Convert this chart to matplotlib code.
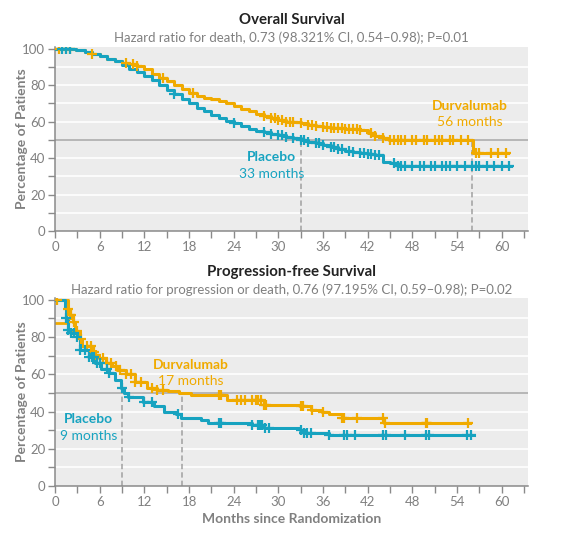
import numpy as np
import matplotlib
matplotlib.use("Agg")
import matplotlib.pyplot as plt
from matplotlib.ticker import MultipleLocator

plt.rcParams["font.family"] = ["Lato", "DejaVu Sans"]

ORANGE = "#F0AA00"
TEAL = "#17A3C0"
GRAY = "#8a8a8a"

# ---- Overall survival (step points, % alive) ----
os_durva_t = [0, 2.8, 4, 5, 6, 7, 8, 9, 10, 11, 12, 13, 14, 15, 16, 17, 18, 19, 20, 21,
              22, 23, 24, 25, 26, 27, 28, 29, 30, 31, 32, 33, 34, 35, 36, 37, 38, 39, 40,
              41, 42, 43, 44, 44.8, 56.1, 60.8]
os_durva_s = [100, 99, 98, 97, 96, 94.5, 93, 92, 91.5, 90.5, 88.5, 86, 84, 82, 80, 78, 75.5,
              74, 73, 72.5, 71.5, 70, 68.5, 67, 65.5, 64, 63, 62, 61, 60, 59.5, 59, 58, 57.5,
              57, 56.5, 56.5, 56, 56, 55.5, 53.5, 52, 51, 50, 43, 43]
os_plac_t = [0, 2.8, 4, 5, 6, 7, 8, 9, 10, 11, 12, 13, 14, 15, 16, 17, 18, 19, 20, 21, 22,
             23, 24, 25, 26, 27, 28, 29, 30, 31, 32, 33, 34, 35, 36, 37, 38, 39, 40, 41, 42,
             43, 44, 45, 46, 61.3]
os_plac_s = [100, 99, 98, 97, 96, 94.5, 93, 91, 89, 87, 85, 82.5, 80, 77.5, 75, 72.5, 70,
             67.5, 65.5, 63.5, 62, 60.5, 59, 57.5, 56, 55, 54, 53, 52.5, 51.5, 51, 50, 49, 48,
             47, 46, 45, 44, 43.5, 43, 42, 41.5, 38, 37, 35.5, 35.5]
os_durva_cens = [0.5, 1.5, 2, 5, 9.5, 10.5, 11, 14.5, 18.5, 28, 29, 29.5, 30, 30.5, 31, 31.5,
                 32, 33, 34, 34.5, 35, 36, 36.5, 37, 37.5, 38, 38.5, 39, 39.5, 40, 40.5, 41,
                 42.5, 43, 44, 45, 45.5, 46, 46.5, 47, 48, 48.5, 49.5, 50, 51, 51.5, 52, 53,
                 53.5, 54.5, 55.5, 56.5, 57, 58.5, 59.5, 60.5]
os_plac_cens = [1, 1.5, 2, 16, 24, 28, 29, 30, 30.5, 31, 32, 33, 33.5, 34, 35, 35.5, 36, 37,
                37.5, 38, 38.5, 39.5, 40, 41, 41.5, 42, 42.5, 43, 43.5, 45.5, 46, 46.5, 47,
                48, 49, 49.5, 50.5, 51, 52, 52.5, 53, 54, 55, 56, 56.5, 57, 58, 59, 60, 61]

# ---- Progression-free survival ----
pfs_durva_t = [0, 1.7, 2.0, 2.4, 2.7, 3.3, 3.6, 4.9, 5.4, 5.9, 6.9, 7.7, 8.3, 9.5, 10.8,
               12.3, 13.7, 15.2, 16.7, 18.2, 23.1, 28, 32.9, 34.4, 35.8, 36.8, 38.5, 44.2, 55.7]
pfs_durva_s = [100, 95, 92, 88, 83, 79, 75, 72, 70.5, 68.5, 66, 64.3, 62.4, 60, 56, 52.5,
               51.6, 51, 49.8, 48.6, 46.2, 43.5, 42.7, 40.9, 40, 38.5, 36.4, 34, 34]
pfs_durva_stub_t = [0, 1.6]
pfs_durva_stub_s = [87.5, 87.5]
pfs_plac_t = [0, 1.3, 1.5, 1.7, 2.1, 3.0, 3.3, 4.5, 5.4, 6.2, 7.2, 8.0, 8.8, 9.3, 9.8, 11.8,
              13.3, 14.7, 16.2, 16.9, 19.6, 20.6, 26.5, 28, 32.9, 33.4, 36.8, 56.2]
pfs_plac_s = [100, 96, 90, 84, 82, 80, 73, 69.5, 66, 63, 60.8, 57, 52.5, 49.8, 48, 45.3,
              42.7, 40, 38.5, 36.4, 35.5, 34, 32.8, 31, 30.1, 28.3, 27.4, 27.4]
pfs_durva_cens = [0.3, 1.8, 2.0, 2.2, 2.5, 3, 3.5, 4.3, 4.8, 5.2, 5.5, 6.5, 7, 7.5, 8.2, 8.7,
                  9.5, 10.2, 10.8, 11.5, 13, 13.7, 14.5, 22, 22.3, 24.5, 25, 25.5, 26.5, 27,
                  27.3, 27.6, 28, 28.3, 33, 33.3, 34.5, 36, 38.5, 38.8, 40.5, 44, 44.3, 49.8,
                  50, 55.5]
pfs_plac_cens = [1.5, 1.8, 2.2, 2.6, 3, 3.3, 4, 4.5, 5, 5.3, 5.6, 6, 7, 7.3, 9, 10, 12, 13,
                 16.5, 22, 22.3, 26.5, 27.2, 27.5, 27.8, 28.2, 28.8, 33, 33.4, 33.8, 34.4,
                 36.8, 38.8, 39.2, 40.3, 44, 44.5, 47, 49.8, 50.2, 55.3, 55.8]

titles = ["Overall Survival", "Progression-free Survival"]
subtitles = ["Hazard ratio for death, 0.73 (98.321% CI, 0.54\u20130.98); P=0.01",
             "Hazard ratio for progression or death, 0.76 (97.195% CI, 0.59\u20130.98); P=0.02"]
medians = [(56, 33), (17, 9)]
xticks = list(range(0, 61, 6))
yticks = list(range(0, 101, 20))


def step_at(t, s, x):
    idx = np.searchsorted(np.asarray(t), x, side="right") - 1
    return np.asarray(s)[np.clip(idx, 0, len(s) - 1)]


def km(ax, t, s, cens, color):
    ax.step(t, s, where="post", color=color, lw=2.2, zorder=3)
    ax.plot(cens, step_at(t, s, cens), ls="none", marker="+", ms=6.5, mew=1.6,
            color=color, zorder=4)


def style(ax, ylim_top):
    ax.set_facecolor("#ececec")
    ax.set_xlim(0, 63.5)
    ax.set_ylim(0, ylim_top)
    for y in range(10, 100, 10):
        if y != 50:
            ax.axhline(y, color="white", lw=1.2, zorder=1)
    ax.axhline(50, color="#a8a8a8", lw=1.1, zorder=2)
    ax.set_xticks(xticks)
    ax.set_yticks(yticks)
    ax.xaxis.set_minor_locator(MultipleLocator(3))
    ax.yaxis.set_minor_locator(MultipleLocator(10))
    ax.tick_params(which="both", direction="out", length=5, width=1, color=GRAY,
                   labelcolor="#808080", labelsize=9.5, pad=2)
    for side in ("top", "right"):
        ax.spines[side].set_visible(False)
    for side in ("left", "bottom"):
        ax.spines[side].set_color(GRAY)
        ax.spines[side].set_linewidth(1.1)
    ax.set_ylabel("Percentage of Patients", color="#808080", fontsize=10,
                  fontweight="bold")
    ax.yaxis.set_label_coords(-0.058, 0.5)


fig = plt.figure(figsize=(5.69, 5.39), dpi=100)
ax1 = fig.add_axes([0.0967, 0.5714, 0.831, 0.342])
ax2 = fig.add_axes([0.0967, 0.0983, 0.831, 0.349])

for ax, ylt in ((ax1, 101), (ax2, 101)):
    style(ax, ylt)

km(ax1, os_durva_t, os_durva_s, os_durva_cens, ORANGE)
km(ax1, os_plac_t, os_plac_s, os_plac_cens, TEAL)
km(ax2, pfs_durva_t, pfs_durva_s, pfs_durva_cens, ORANGE)
ax2.plot(pfs_durva_stub_t, pfs_durva_stub_s, color=ORANGE, lw=2, zorder=2)
km(ax2, pfs_plac_t, pfs_plac_s, pfs_plac_cens, TEAL)

for ax, (md, mp) in zip((ax1, ax2), medians):
    for m in (md, mp):
        ax.plot([m, m], [0, 50], color="#a0a0a0", lw=1.1, ls=(0, (3.5, 2)), zorder=2)

# group labels
ax1.text(55.7, 68.5, "Durvalumab", color=ORANGE, fontsize=10, fontweight="bold", ha="center", va="center")
ax1.text(55.7, 59.5, "56 months", color=ORANGE, fontsize=10, ha="center", va="center")
ax1.text(29.1, 40.5, "Placebo", color=TEAL, fontsize=10, fontweight="bold", ha="center", va="center")
ax1.text(29.1, 31.5, "33 months", color=TEAL, fontsize=10, ha="center", va="center")
ax2.text(18.2, 65, "Durvalumab", color=ORANGE, fontsize=10, fontweight="bold", ha="center", va="center")
ax2.text(18.2, 56.5, "17 months", color=ORANGE, fontsize=10, ha="center", va="center")
ax2.text(4.5, 36, "Placebo", color=TEAL, fontsize=10, fontweight="bold", ha="center", va="center")
ax2.text(4.5, 27, "9 months", color=TEAL, fontsize=10, ha="center", va="center")

# titles
cx = 0.0967 + 0.831 / 2
for (ty, sy), title, sub in zip(((20, 38), (272, 290)), titles, subtitles):
    fig.text(cx, 1 - ty / 539, title, ha="center", va="center", fontsize=10.8,
             fontweight="bold", color="#222222")
    fig.text(cx, 1 - sy / 539, sub, ha="center", va="center", fontsize=9.5, color="#808080")

fig.text(cx, 1 - 519 / 539, "Months since Randomization", ha="center", va="center",
         fontsize=10, fontweight="bold", color="#808080")

fig.savefig("out.png", dpi=100, facecolor="white")
